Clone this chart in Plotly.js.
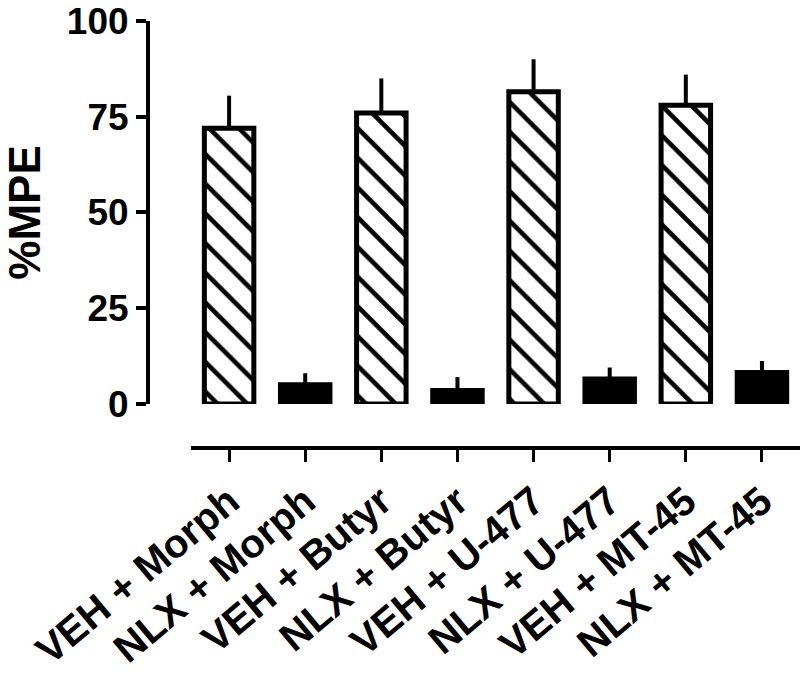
<!DOCTYPE html>
<html>
<head>
<meta charset="utf-8">
<script src="https://cdn.plot.ly/plotly-3.0.1.min.js"></script>
<style>
  body { margin: 0; background: #fff; }
  #chart { width: 800px; height: 680px; }
</style>
</head>
<body>
<div id="chart"></div>
<script>
// Groupes et valeurs
const groups = ['VEH + Morph', 'NLX + Morph', 'VEH + Butyr', 'NLX + Butyr',
                'VEH + U-477', 'NLX + U-477', 'VEH + MT-45', 'NLX + MT-45'];
const mpe = [72, 5, 76, 3.5, 81.5, 6.5, 78, 8.2];
const sem = [8.5, 3, 9, 3.5, 8.5, 3, 8, 3];
const pretreat = ['VEH', 'NLX', 'VEH', 'NLX', 'VEH', 'NLX', 'VEH', 'NLX'];

const boldFont = { family: 'Liberation Sans, Arial, sans-serif', color: 'black', weight: 'bold' };

// Une trace par prétraitement (VEH hachuré, NLX noir)
function pick(arr, p) {
  return arr.filter((v, i) => pretreat[i] === p);
}

function barTrace(p) {
  const vals = pick(sem, p);
  return {
    type: 'bar',
    name: p,
    x: pick(groups, p),
    y: pick(mpe, p),
    width: 0.65,
    marker: p === 'VEH'
      ? { color: 'white', line: { color: 'black', width: 5 },
          pattern: { shape: '\\', fgcolor: 'black', fgopacity: 1, bgcolor: 'white',
                     size: 21, solidity: 0.22, fillmode: 'overlay' } }
      : { color: 'black', line: { color: 'black', width: 5 } },
    error_y: {
      type: 'data',
      symmetric: false,
      array: vals,
      arrayminus: vals.map(() => 0),
      color: 'black',
      thickness: 4,
      width: 0
    }
  };
}

Plotly.newPlot('chart', [barTrace('VEH'), barTrace('NLX')], {
  width: 800,
  height: 680,
  margin: { l: 148, r: 0, t: 21, b: 232 },
  paper_bgcolor: 'white',
  plot_bgcolor: 'white',
  showlegend: false,
  barmode: 'overlay',
  xaxis: {
    type: 'category',
    categoryorder: 'array',
    categoryarray: groups,
    domain: [0.066, 1],
    anchor: 'free',
    position: 0,
    range: [-0.5, 7.5],
    showline: true,
    linewidth: 4,
    linecolor: 'black',
    ticks: 'outside',
    ticklen: 12,
    tickwidth: 3,
    tickcolor: 'black',
    tickangle: -40,
    tickfont: Object.assign({ size: 40 }, boldFont),
    ticklabeloverflow: 'allow',
    showgrid: false,
    zeroline: false
  },
  yaxis: {
    domain: [0.1033, 1],
    anchor: 'free',
    position: 0,
    range: [0, 100],
    tickvals: [0, 25, 50, 75, 100],
    showline: true,
    linewidth: 4,
    linecolor: 'black',
    ticks: 'outside',
    ticklen: 10,
    tickwidth: 4,
    tickcolor: 'black',
    tickfont: Object.assign({ size: 37 }, boldFont),
    ticklabeloverflow: 'allow',
    showgrid: false,
    zeroline: false,
    title: { text: '%MPE', font: Object.assign({ size: 44 }, boldFont), standoff: 40 }
  }
}, {
  displayModeBar: false
});
</script>
</body>
</html>
